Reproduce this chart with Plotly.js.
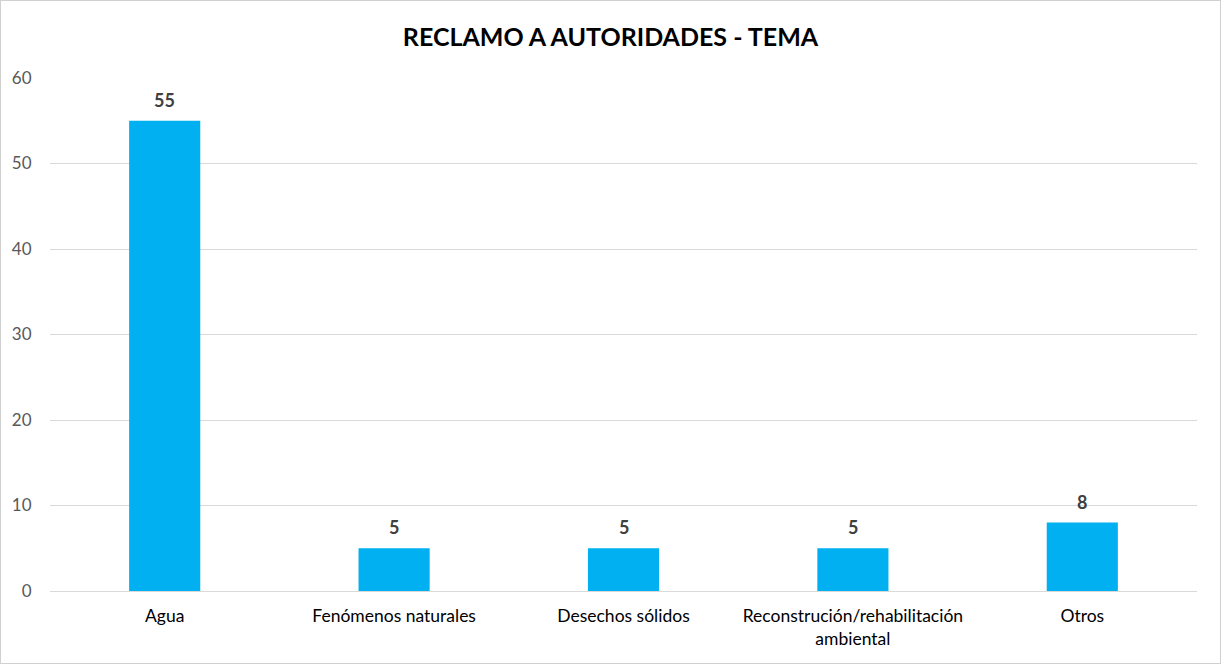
<!DOCTYPE html>
<html>
<head>
<meta charset="utf-8">
<script src="https://cdn.plot.ly/plotly-3.0.1.min.js"></script>
<style>
html,body{margin:0;padding:0;background:#fff;}
#wrap{position:relative;width:1221px;height:664px;}
#chart{width:1221px;height:664px;}
#frame{position:absolute;left:0;top:0;width:1219px;height:662px;border:1px solid #d0d0d0;pointer-events:none;}
</style>
</head>
<body>
<div id="wrap"><div id="chart"></div><div id="frame"></div></div>
<script>
const categories = ["Agua", "Fenómenos naturales", "Desechos sólidos", "Reconstrución/rehabilitación<br>ambiental", "Otros"];
const values = [55, 5, 5, 5, 8];
const yTicks = [0, 10, 20, 30, 40, 50, 60];

const trace = {
  type: 'bar',
  x: categories,
  y: values,
  marker: {color: '#00B0F0'},
  hoverinfo: 'x+y'
};

const labels = categories.map((c, i) => ({
  x: c, y: values[i], xref: 'x', yref: 'y',
  text: '<b>' + values[i] + '</b>',
  showarrow: false, yanchor: 'bottom', yshift: 8,
  font: {family: 'Lato, sans-serif', size: 18, color: '#404040'}
}));

const layout = {
  width: 1221, height: 664,
  margin: {l: 50, r: 24, t: 78, b: 73},
  paper_bgcolor: '#ffffff', plot_bgcolor: '#ffffff',
  bargap: 0.69,
  showlegend: false,
  font: {family: 'Lato, sans-serif'},
  annotations: labels,
  title: {
    text: '<b>RECLAMO A AUTORIDADES - TEMA</b>',
    font: {family: 'Lato, sans-serif', size: 25, color: '#000000'},
    x: 0.5, xanchor: 'center', xref: 'container',
    y: 1 - 37/664, yanchor: 'middle', yref: 'container'
  },
  xaxis: {
    type: 'category',
    showgrid: false,
    showline: true, linecolor: '#d9d9d9', linewidth: 1,
    ticks: 'outside', ticklen: 9, tickcolor: 'rgba(0,0,0,0)',
    tickfont: {family: 'Lato, sans-serif', size: 17.5, color: '#000000'}
  },
  yaxis: {
    range: [0, 60],
    tickvals: yTicks,
    showgrid: true, gridcolor: '#d9d9d9', gridwidth: 1,
    zeroline: false, showline: false,
    ticks: 'outside', ticklen: 14, tickcolor: 'rgba(0,0,0,0)',
    tickfont: {family: 'Lato, sans-serif', size: 17, color: '#595959'}
  }
};

Plotly.newPlot('chart', [trace], layout, {displayModeBar: false, staticPlot: true});
</script>
</body>
</html>
